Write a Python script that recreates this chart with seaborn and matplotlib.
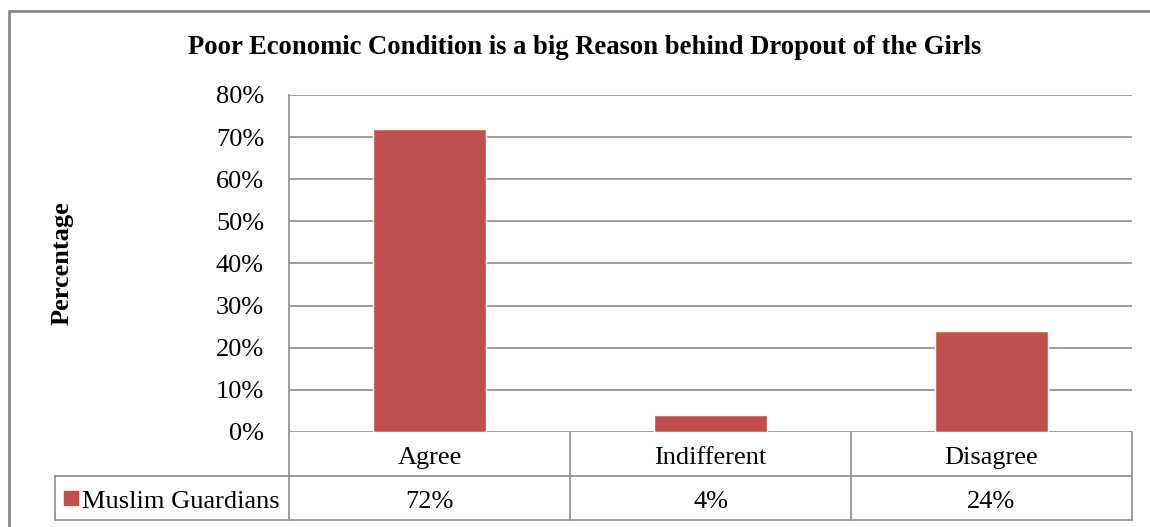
import matplotlib
matplotlib.use("Agg")
import matplotlib.pyplot as plt
from matplotlib.lines import Line2D
from matplotlib.patches import Rectangle
import seaborn as sns
import pandas as pd

# data
categories = ["Agree", "Indifferent", "Disagree"]
values = [72, 4, 24]
series_name = "Muslim Guardians"
yticks = [0, 10, 20, 30, 40, 50, 60, 70, 80]

bar_color = "#C0504D"
grid_color = "#8C8C8C"

sns.set_theme(style="white")
plt.rcParams["font.family"] = ["Liberation Serif", "DejaVu Serif"]
plt.rcParams["text.color"] = "black"
plt.rcParams["ytick.color"] = "black"

W, H = 1150, 527
fig = plt.figure(figsize=(W / 100, H / 100), dpi=100)
fig.patch.set_facecolor("white")

# plot area in pixels
x0, x1, y_top, y_bot = 289, 1132, 95, 432
ax = fig.add_axes([x0 / W, 1 - y_bot / H, (x1 - x0) / W, (y_bot - y_top) / H])

df = pd.DataFrame({"cat": categories, "val": values})
sns.barplot(data=df, x="cat", y="val", color=bar_color, width=0.4,
            saturation=1, ax=ax, zorder=3)

fs = 19
ax.set_xlim(-0.5, len(categories) - 0.5)
ax.set_ylim(0, 80)
ax.set_yticks(yticks)
ax.set_yticklabels([f"{t}%" for t in yticks], fontsize=fs, color="black")
ax.tick_params(axis="y", length=0, pad=18)
ax.set_xticks([])
ax.set_xlabel("")
ax.set_ylabel("")
ax.yaxis.grid(True, color=grid_color, linewidth=1.2)
ax.set_axisbelow(True)
for s in ["top", "right", "bottom"]:
    ax.spines[s].set_visible(False)
ax.spines["left"].set_color(grid_color)
ax.spines["left"].set_linewidth(1.2)

# data table below the plot
ph = y_bot - y_top
row_h = 44 / ph
nudge = 4 / ph
lab_left = (55 - x0) / (x1 - x0)
tk = dict(transform=ax.transAxes, color=grid_color, linewidth=1.2, clip_on=False)
n = len(categories)
ax.add_line(Line2D([0, 1], [-row_h, -row_h], **tk))
ax.add_line(Line2D([lab_left, 0], [-row_h, -row_h], **tk))
ax.add_line(Line2D([lab_left, 1], [-2 * row_h, -2 * row_h], **tk))
ax.add_line(Line2D([lab_left, lab_left], [-row_h, -2 * row_h], **tk))
for i in range(n + 1):
    xx = i / n
    ax.add_line(Line2D([xx, xx], [0, -2 * row_h], **tk))

for i, (c, v) in enumerate(zip(categories, values)):
    ax.text(i, -row_h / 2 - nudge, c, transform=ax.get_xaxis_transform(),
            ha="center", va="center", fontsize=fs)
    ax.text(i, -1.5 * row_h - nudge, f"{v}%", transform=ax.get_xaxis_transform(),
            ha="center", va="center", fontsize=fs)

# legend key in the table
key = 14 / ph
ax.add_patch(Rectangle(((64 - x0) / (x1 - x0), -1.5 * row_h - key / 2),
                       14 / (x1 - x0), key, transform=ax.transAxes,
                       color=bar_color, clip_on=False))
ax.text((82 - x0) / (x1 - x0), -1.5 * row_h - nudge, series_name, transform=ax.transAxes,
        ha="left", va="center", fontsize=fs)

# title and axis label
fig.text(585 / W, 1 - 48 / H, "Poor Economic Condition is a big Reason behind Dropout of the Girls",
         ha="center", va="center", fontsize=19.2, fontweight="bold")
fig.text(62 / W, 1 - 263 / H, "Percentage", rotation=90, ha="center", va="center",
         fontsize=19, fontweight="bold")

# chart border (top and left visible)
fig.add_artist(Line2D([9 / W, 9 / W], [0, 1 - 11 / H], transform=fig.transFigure,
                      color="#8C8C8C", linewidth=2))
fig.add_artist(Line2D([9 / W, 1], [1 - 11 / H, 1 - 11 / H], transform=fig.transFigure,
                      color="#8C8C8C", linewidth=2))

fig.savefig("out.png", dpi=100)
